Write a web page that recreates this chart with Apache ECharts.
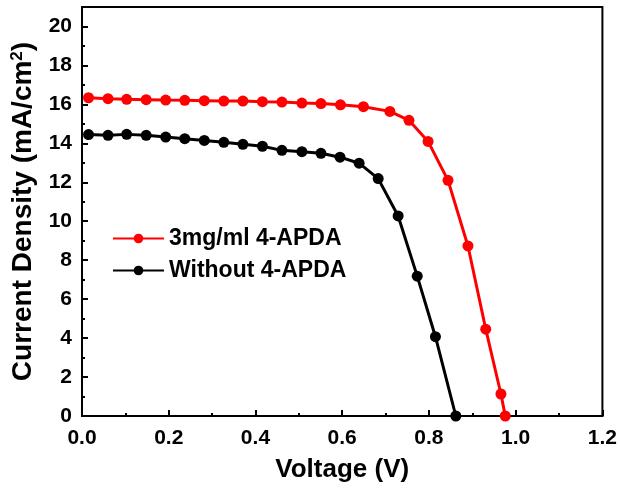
<!DOCTYPE html>
<html>
<head>
<meta charset="utf-8">
<script src="https://cdn.jsdelivr.net/npm/echarts@6/dist/echarts.min.js"></script>
<style>
  html, body { margin: 0; padding: 0; background: #fff; }
  #chart { width: 620px; height: 488px; }
</style>
</head>
<body>
<div id="chart"></div>
<script>
// J-V curves of the two devices
const seriesNames = ['3mg/ml 4-APDA', 'Without 4-APDA'];

const voltageTreated = [0.015, 0.06, 0.103, 0.148, 0.193, 0.237, 0.282, 0.327, 0.371, 0.416, 0.461, 0.507, 0.551, 0.596, 0.649, 0.710, 0.754, 0.798, 0.844, 0.890, 0.931, 0.966, 0.976];
const currentTreated = [16.34, 16.29, 16.26, 16.24, 16.22, 16.21, 16.19, 16.17, 16.17, 16.14, 16.12, 16.07, 16.04, 15.98, 15.88, 15.64, 15.18, 14.1, 12.1, 8.73, 4.46, 1.13, 0];

const voltageControl = [0.015, 0.06, 0.103, 0.148, 0.193, 0.237, 0.282, 0.327, 0.371, 0.416, 0.461, 0.507, 0.551, 0.595, 0.639, 0.683, 0.729, 0.773, 0.815, 0.862];
const currentControl = [14.45, 14.41, 14.46, 14.41, 14.32, 14.24, 14.15, 14.05, 13.95, 13.85, 13.64, 13.57, 13.49, 13.29, 12.98, 12.19, 10.27, 7.18, 4.07, 0];

const xTicks = ['0.0', '0.2', '0.4', '0.6', '0.8', '1.0', '1.2'];

const pairs = (xs, ys) => xs.map((x, i) => [x, ys[i]]);

const FONT = '"Liberation Sans", Arial, sans-serif';

const chart = echarts.init(document.getElementById('chart'), null, { renderer: 'canvas' });

chart.setOption({
  animation: false,
  backgroundColor: '#ffffff',
  grid: {
    left: 82, right: 17, top: 7, bottom: 72,
    show: true, borderColor: '#000', borderWidth: 2, backgroundColor: 'transparent'
  },
  legend: {
    orient: 'vertical',
    left: 107, top: 222,
    itemWidth: 51, itemHeight: 12, itemGap: 9,
    data: seriesNames,
    textStyle: { fontFamily: FONT, fontWeight: 'bold', fontSize: 23, lineHeight: 20, color: '#000' }
  },
  xAxis: {
    type: 'value',
    min: 0, max: 1.2, interval: 0.2,
    name: 'Voltage (V)',
    nameLocation: 'middle',
    nameGap: 41,
    nameTextStyle: { fontFamily: FONT, fontWeight: 'bold', fontSize: 26, color: '#000' },
    axisLine: { show: true, onZero: false, lineStyle: { color: '#000', width: 2 } },
    axisTick: { show: true, inside: true, length: 6, lineStyle: { color: '#000', width: 2 } },
    minorTick: { show: true, splitNumber: 2, length: 3, lineStyle: { color: '#000', width: 2 } },
    splitLine: { show: false },
    axisLabel: {
      margin: 12, color: '#000', fontFamily: FONT, fontWeight: 'bold', fontSize: 21,
      formatter: (v) => xTicks[Math.round(v / 0.2)]
    }
  },
  yAxis: {
    type: 'value',
    min: 0, max: 21, interval: 2,
    name: 'Current Density (mA/cm{sup|2})',
    nameLocation: 'middle',
    nameGap: 42,
    nameRotate: 90,
    nameTextStyle: {
      fontFamily: FONT, fontWeight: 'bold', fontSize: 28, color: '#000',
      rich: {
        sup: { fontFamily: FONT, fontWeight: 'bold', fontSize: 17, color: '#000', verticalAlign: 'top', padding: [0, 0, 12, 0] }
      }
    },
    axisLine: { show: true, onZero: false, lineStyle: { color: '#000', width: 2 } },
    axisTick: { show: true, inside: true, length: 6, lineStyle: { color: '#000', width: 2 } },
    minorTick: { show: true, splitNumber: 2, length: 3, lineStyle: { color: '#000', width: 2 } },
    splitLine: { show: false },
    axisLabel: {
      margin: 10, color: '#000', fontFamily: FONT, fontWeight: 'bold', fontSize: 21,
      showMaxLabel: false
    }
  },
  series: [
    {
      name: seriesNames[0],
      type: 'line',
      data: pairs(voltageTreated, currentTreated),
      color: '#ff0000',
      symbol: 'circle',
      symbolSize: 11,
      lineStyle: { width: 3, color: '#ff0000' },
      itemStyle: { color: '#ff0000' },
      z: 3
    },
    {
      name: seriesNames[1],
      type: 'line',
      data: pairs(voltageControl, currentControl),
      color: '#000000',
      symbol: 'circle',
      symbolSize: 11,
      lineStyle: { width: 3, color: '#000000' },
      itemStyle: { color: '#000000' },
      z: 2
    }
  ]
});
</script>
</body>
</html>
